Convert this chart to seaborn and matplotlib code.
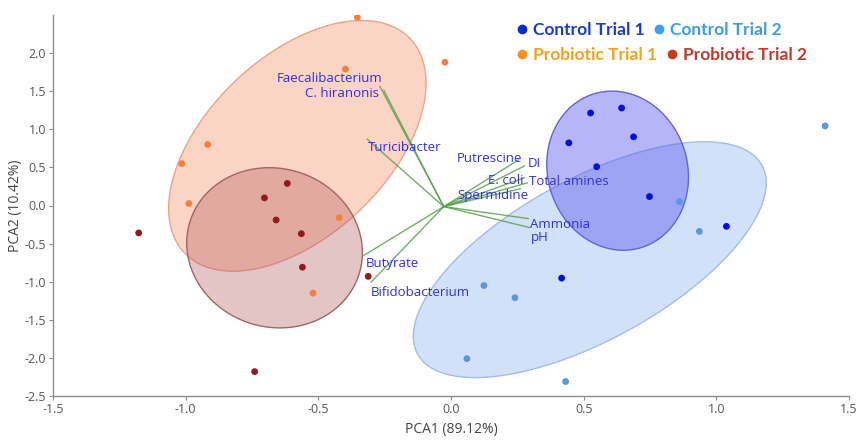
import numpy as np
import pandas as pd
import matplotlib
matplotlib.use("Agg")
import matplotlib.pyplot as plt
from matplotlib.lines import Line2D
from matplotlib.colors import to_rgba
import seaborn as sns

# ---- scores (PCA1, PCA2) per group ----
groups = ["Control Trial 1", "Control Trial 2", "Probiotic Trial 1", "Probiotic Trial 2"]

ctrl1_pc1 = [0.526, 0.643, 0.444, 0.688, 0.549, 0.748, 1.038, 0.417]
ctrl1_pc2 = [1.214, 1.279, 0.822, 0.901, 0.509, 0.117, -0.274, -0.953]
ctrl2_pc1 = [1.410, 0.861, 0.936, 0.124, 0.241, 0.060, 0.432]
ctrl2_pc2 = [1.044, 0.050, -0.340, -1.050, -1.210, -2.010, -2.310]
prob1_pc1 = [-0.353, -0.398, -0.023, -0.917, -1.015, -0.988, -0.421, -0.520]
prob1_pc2 = [2.470, 1.790, 1.880, 0.800, 0.550, 0.026, -0.160, -1.150]
prob2_pc1 = [-1.177, -0.617, -0.703, -0.659, -0.564, -0.560, -0.312, -0.740]
prob2_pc2 = [-0.360, 0.290, 0.100, -0.190, -0.370, -0.810, -0.930, -2.180]

# ---- density ellipses: centre, half-extents along each axis, correlation ----
ell_cx = [0.628, 0.523, -0.579, -0.665]
ell_cy = [0.457, -0.711, 0.783, -0.555]
ell_ax = [0.267, 0.665, 0.485, 0.331]
ell_ay = [1.044, 1.547, 1.645, 1.051]
ell_r = [-0.08, 0.65, 0.50, -0.06]

# ---- loading vectors ----
var_names = ["Faecalibacterium", "C. hiranonis", "Turicibacter", "Putrescine", "DI",
             "E. coli", "Total amines", "Spermidine", "Ammonia", "pH",
             "Butyrate", "Bifidobacterium"]
load_pc1 = [-0.241, -0.226, -0.289, 0.282, 0.305, 0.305, 0.316, 0.290, 0.319, 0.323, -0.301, -0.274]
load_pc2 = [1.580, 1.527, 0.888, 0.614, 0.535, 0.379, 0.313, 0.235, -0.157, -0.274, -0.640, -0.992]

x_ticks = [-1.5, -1.0, -0.5, 0.0, 0.5, 1.0, 1.5]
y_ticks = [-2.5, -2.0, -1.5, -1.0, -0.5, 0.0, 0.5, 1.0, 1.5, 2.0]

# label placement relative to each vector tip (pixels, alignment)
label_off = [(3, 8, "right"), (-5, -3, "right"), (1, -9, "left"), (4, 1, "right"),
             (3, 2, "left"), (-1, -3, "right"), (1, 1, "left"), (8, -7, "right"),
             (2, -6, "left"), (1, -10, "left"), (2, -8, "left"), (0, -10, "left")]

point_colors = ["#0010dc", "#5a98de", "#f5803e", "#8e1c1c"]
ell_face = [("#5b5bef", 0.45), ("#8fb4ee", 0.40), ("#f4a080", 0.45), ("#b35a5a", 0.35)]
ell_edge = ["#6464d6", "#a3bde8", "#eba48c", "#a46464"]
legend_marker = ["#0a2bd0", "#3aa0f0", "#f7941d", "#c43d1f"]
legend_text = ["#1a3cc8", "#3d9be9", "#f5a31c", "#c0392b"]

pc1_all = [ctrl1_pc1, ctrl2_pc1, prob1_pc1, prob2_pc1]
pc2_all = [ctrl1_pc2, ctrl2_pc2, prob1_pc2, prob2_pc2]
scores = pd.concat(
    [pd.DataFrame({"PCA1": a, "PCA2": b, "Group": g}) for a, b, g in zip(pc1_all, pc2_all, groups)],
    ignore_index=True)

sns.set_style("ticks")
plt.rcParams["font.family"] = ["Open Sans", "DejaVu Sans"]
plt.rcParams["axes.unicode_minus"] = False

fig = plt.figure(figsize=(8.59, 4.41), dpi=100)
ax = fig.add_axes([53 / 859, 45 / 441, 796 / 859, 381 / 441])

# ellipses
t = np.linspace(0, 2 * np.pi, 300)
for i in [1, 0, 2, 3]:
    r = ell_r[i]
    ex = ell_cx[i] + ell_ax[i] * np.cos(t)
    ey = ell_cy[i] + ell_ay[i] * (r * np.cos(t) + np.sqrt(1 - r ** 2) * np.sin(t))
    fc, a = ell_face[i]
    ax.fill(ex, ey, facecolor=to_rgba(fc, a), edgecolor=ell_edge[i], lw=1.0, zorder=1)

# loading vectors from the centroid of the scores
ox, oy = scores["PCA1"].mean(), scores["PCA2"].mean()
for name, lx, ly, (dx, dy, ha) in zip(var_names, load_pc1, load_pc2, label_off):
    ax.plot([ox, ox + lx], [oy, oy + ly], color="#5aa24c", lw=1.0, alpha=0.85, zorder=2)
    ax.annotate(name, xy=(ox + lx, oy + ly), xytext=(dx * 0.72, dy * 0.72),
                textcoords="offset points", ha=ha, va="center",
                fontsize=9.5, color="#3030e0", zorder=4)

# scores
sns.scatterplot(data=scores, x="PCA1", y="PCA2", hue="Group", hue_order=groups,
                palette=point_colors, s=24, edgecolor="none", legend=False, ax=ax, zorder=3)

ax.set_xlim(-1.5, 1.5)
ax.set_ylim(-2.5, 2.5)
ax.set_xticks(x_ticks)
ax.set_yticks(y_ticks)
ax.set_xticklabels([f"{v:.1f}" for v in x_ticks])
ax.set_yticklabels([f"{v:.1f}" for v in y_ticks])
ax.tick_params(length=3, width=0.8, color="#8c8c8c", labelsize=9, labelcolor="#555555", pad=2)
sns.despine(ax=ax)
for s in ["left", "bottom"]:
    ax.spines[s].set_color("#8c8c8c")
    ax.spines[s].set_linewidth(1.0)
ax.set_xlabel("PCA1 (89.12%)", fontsize=10, color="#444444", labelpad=4)
ax.set_ylabel("PCA2 (10.42%)", fontsize=10, color="#444444", labelpad=1)

# legend: two rows of coloured entries
rows = [[0, 1], [2, 3]]
row_y = [1 - 30 / 441, 1 - 55 / 441]
for row, yy in zip(rows, row_y):
    handles = [Line2D([], [], marker="o", ls="", color=legend_marker[i], markersize=6) for i in row]
    leg = fig.legend(handles, [groups[i] for i in row], loc="center left",
                     bbox_to_anchor=(517 / 859, yy), ncol=2, frameon=False,
                     borderpad=0, borderaxespad=0, handlelength=0.6, handletextpad=0.35,
                     columnspacing=0.5,
                     prop={"family": ["Lato", "DejaVu Sans"], "weight": "bold", "size": 12.5})
    for txt, i in zip(leg.get_texts(), row):
        txt.set_color(legend_text[i])

fig.savefig("out.png", dpi=100)
